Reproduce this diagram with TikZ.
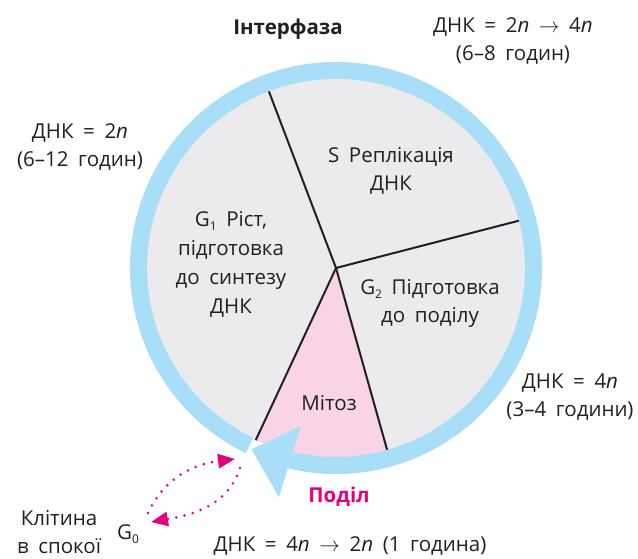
\documentclass[tikz,border=0pt]{standalone}
\usepackage{fontspec}
\setmainfont[WordSpace=1.8]{Open Sans}
\usetikzlibrary{arrows.meta}
\definecolor{cyink}{HTML}{231F20}
\definecolor{cygrey}{HTML}{EBEBED}
\definecolor{cypink}{HTML}{F9D4E6}
\definecolor{cyblue}{HTML}{A8DEF8}
\definecolor{cymag}{HTML}{E6007E}
\newcommand{\gidx}[1]{\raisebox{-0.4ex}{\fontsize{12}{12}\selectfont #1}}

\begin{document}
\begin{tikzpicture}[
  x=1pt, y=1pt,
  font=\fontsize{20.5}{28}\selectfont,
  every node/.style={text=cyink, align=center},
  spoke/.style={cyink, line width=2pt},
  restarrow/.style={cymag, line width=2.8pt, dash pattern=on 0pt off 8.5pt,
    line cap=round, -{Triangle[length=17pt,width=14pt]}},
]
\useasboundingbox (0,0) rectangle (638,558);
\coordinate (c) at (336,290);
\pgfmathsetmacro{\Rin}{190}
\pgfmathsetmacro{\Rring}{197.5}

\fill[cygrey] (c) circle[radius=\Rin];
\fill[cypink] (c) -- ++(245:\Rin)
  arc[start angle=245, end angle=285.7, radius=\Rin] -- cycle;
\foreach \a in {110.8, 14.5, 245, 285.7}
  \draw[spoke] (c) -- ++(\a:\Rin);

\draw[cyblue, line width=17pt] (c) ++(244:\Rring)
  arc[start angle=244, end angle=-103.5, radius=\Rring];
\fill[cyblue] ([shift={(245:200)}]c) -- ([shift={(257.5:162)}]c)
  -- ([shift={(256:236)}]c) -- cycle;

\node[font=\fontsize{20.5}{28}\selectfont\bfseries] (interphase) at (288,529) {Інтерфаза};
\node (sdna) at (513,517) {ДНК = 2\textit{n} $\rightarrow$ 4\textit{n}\\(6–8 годин)};
\node (gonedna) at (80,411) {ДНК = 2\textit{n}\\(6–12 годин)};
\node (sphase) at (391,387) {S Реплікація\\ДНК};
\node[font=\fontsize{20.5}{29}\selectfont] (gone) at (231,294)
  {G\gidx{1} Ріст,\\підготовка\\до синтезу\\ДНК};
\node (gtwo) at (430,255) {G\gidx{2} Підготовка\\до поділу};
\node (mitosis) at (329,155) {Мітоз};
\node (gtwodna) at (570,161) {ДНК = 4\textit{n}\\(3–4 години)};
\node[font=\fontsize{20.5}{28}\selectfont\bfseries, text=cymag] (division) at (339,61) {Поділ};
\node (mdna) at (350,12) {ДНК = 4\textit{n} $\rightarrow$ 2\textit{n} (1 година)};
\node (rest) at (59,26) {Клітина\\в спокої};
\node (gzero) at (128,24) {G\gidx{0}};

\coordinate (upfrom) at (148,45);
\coordinate (upto) at (235,99);
\coordinate (lowfrom) at (240,90);
\coordinate (lowto) at (151,36);
\draw[restarrow] (upfrom) to[out=65, in=187] (upto);
\draw[restarrow] (lowfrom) to[out=252, in=10] (lowto);

\end{tikzpicture}
\end{document}
